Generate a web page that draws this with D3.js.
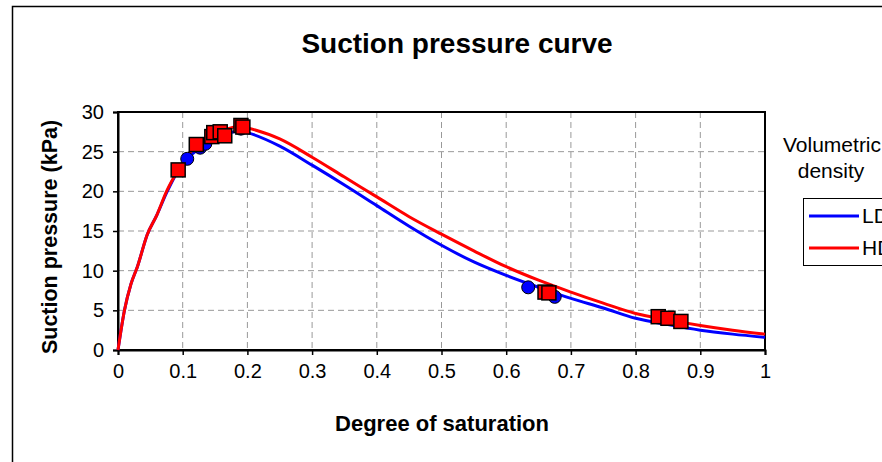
<!DOCTYPE html>
<html>
<head>
<meta charset="utf-8">
<script src="https://cdn.jsdelivr.net/npm/d3@7"></script>
<style>
  body { margin: 0; background: #fff; }
  text { font-family: Arial, "Liberation Sans", sans-serif; }
</style>
</head>
<body>
<div id="area"></div>
<script>
// curves (degree of saturation, suction kPa)
var ldCurveS = [0, 0.01, 0.02, 0.03, 0.045, 0.06, 0.075, 0.09, 0.107, 0.13, 0.15, 0.17, 0.19, 0.2, 0.25, 0.3, 0.35, 0.4, 0.45, 0.5, 0.55, 0.6, 0.65, 0.7, 0.75, 0.8, 0.85, 0.9, 0.95, 1.0];
var ldCurveP = [0, 5, 8.3, 10.5, 14.5, 17, 19.8, 22.2, 24.1, 25.6, 26.6, 27.3, 27.6, 27.4, 25.7, 23.3, 20.8, 18.2, 15.6, 13.2, 11.1, 9.4, 7.9, 6.5, 5.3, 4.0, 3.2, 2.5, 2.0, 1.6];
var hdCurveS = [0, 0.01, 0.02, 0.03, 0.045, 0.06, 0.075, 0.093, 0.12, 0.15, 0.17, 0.19, 0.2, 0.25, 0.3, 0.35, 0.4, 0.45, 0.5, 0.55, 0.6, 0.65, 0.7, 0.75, 0.8, 0.85, 0.9, 0.95, 1.0];
var hdCurveP = [0, 5, 8.3, 10.5, 14.5, 17, 20, 22.7, 25.7, 27.2, 27.9, 28.2, 28.0, 26.6, 24.3, 21.8, 19.3, 16.8, 14.6, 12.5, 10.5, 8.8, 7.3, 5.9, 4.6, 3.8, 3.1, 2.5, 2.0];

// measured points
var ldPtsS = [0.107, 0.127, 0.135, 0.19, 0.634, 0.675];
var ldPtsP = [24.1, 25.5, 26.0, 27.9, 7.9, 6.7];
var hdPtsS = [0.093, 0.121, 0.145, 0.148, 0.158, 0.165, 0.19, 0.193, 0.66, 0.666, 0.835, 0.85, 0.87];
var hdPtsP = [22.7, 25.9, 26.9, 27.4, 27.5, 27.0, 28.3, 28.1, 7.3, 7.2, 4.2, 4.0, 3.6];

var xTicks = [0, 0.1, 0.2, 0.3, 0.4, 0.5, 0.6, 0.7, 0.8, 0.9, 1];
var yTicks = [0, 5, 10, 15, 20, 25, 30];
var seriesNames = ["LD", "HD"];
var seriesColors = ["#0000ff", "#ff0000"];

var W = 882, H = 462;
var margin = {top: 112, left: 118};
var plotW = 765 - 118, plotH = 350 - 112;

var svg = d3.select('#area').append('svg')
            .attr('width', W)
            .attr('height', H);

// chart border
svg.append('rect')
   .attr('x', 12.5).attr('y', 6.5)
   .attr('width', W + 20).attr('height', H + 20)
   .attr('fill', '#fff').attr('stroke', '#000').attr('stroke-width', 1.5);

svg.append('text')
   .attr('x', 457).attr('y', 53)
   .attr('text-anchor', 'middle')
   .style('font-size', '28px').style('font-weight', 'bold')
   .text('Suction pressure curve');

var g = svg.append('g')
           .attr('transform', 'translate(' + margin.left + ',' + margin.top + ')');

var x = d3.scaleLinear().domain([0, 1]).range([0, plotW]);
var y = d3.scaleLinear().domain([0, 30]).range([plotH, 0]);

// grid
g.selectAll('.vgrid').data(xTicks.slice(1))
 .enter().append('line')
 .attr('x1', d => x(d)).attr('x2', d => x(d))
 .attr('y1', 0).attr('y2', plotH)
 .attr('stroke', '#999').attr('stroke-dasharray', '6,4');
g.selectAll('.hgrid').data(yTicks.slice(1))
 .enter().append('line')
 .attr('x1', 0).attr('x2', plotW)
 .attr('y1', d => y(d)).attr('y2', d => y(d))
 .attr('stroke', '#999').attr('stroke-dasharray', '6,4');

// plot frame
g.append('rect')
 .attr('width', plotW).attr('height', plotH)
 .attr('fill', 'none').attr('stroke', '#000').attr('stroke-width', 2);

var xAxis = d3.axisBottom(x).tickValues(xTicks).tickSize(5).tickPadding(9)
              .tickFormat(d => d === 0 ? '0' : d === 1 ? '1' : d3.format('.1f')(d));
var yAxis = d3.axisLeft(y).tickValues(yTicks).tickSize(5).tickPadding(9);

var xg = g.append('g').attr('transform', 'translate(0,' + plotH + ')').call(xAxis);
var yg = g.append('g').call(yAxis);
[xg, yg].forEach(function(a) {
  a.select('.domain').attr('stroke', '#000').attr('stroke-width', 2);
  a.selectAll('.tick line').attr('stroke', '#000').attr('stroke-width', 1.5);
  a.selectAll('.tick text').style('font-size', '20px').attr('fill', '#000')
   .style('font-family', 'Arial, "Liberation Sans", sans-serif');
});

// axis titles
svg.append('text')
   .attr('x', 442).attr('y', 431)
   .attr('text-anchor', 'middle')
   .style('font-size', '22px').style('font-weight', 'bold')
   .text('Degree of saturation');
svg.append('text')
   .attr('transform', 'translate(57,237) rotate(-90)')
   .attr('text-anchor', 'middle')
   .style('font-size', '21.5px').style('font-weight', 'bold')
   .text('Suction pressure (kPa)');

var line = d3.line().curve(d3.curveMonotoneX).x(d => x(d[0])).y(d => y(d[1]));

var ldCurve = ldCurveS.map((s, i) => [s, ldCurveP[i]]);
var hdCurve = hdCurveS.map((s, i) => [s, hdCurveP[i]]);

g.append('path').datum(ldCurve).attr('d', line)
 .attr('fill', 'none').attr('stroke', seriesColors[0]).attr('stroke-width', 3);
g.append('path').datum(hdCurve).attr('d', line)
 .attr('fill', 'none').attr('stroke', seriesColors[1]).attr('stroke-width', 3);

g.selectAll('.ldpt').data(ldPtsS.map((s, i) => [s, ldPtsP[i]]))
 .enter().append('circle')
 .attr('cx', d => x(d[0])).attr('cy', d => y(d[1])).attr('r', 6.5)
 .attr('fill', seriesColors[0]).attr('stroke', '#000').attr('stroke-width', 1);

g.selectAll('.hdpt').data(hdPtsS.map((s, i) => [s, hdPtsP[i]]))
 .enter().append('rect')
 .attr('x', d => x(d[0]) - 7).attr('y', d => y(d[1]) - 7)
 .attr('width', 14).attr('height', 14)
 .attr('fill', seriesColors[1]).attr('stroke', '#000').attr('stroke-width', 1.5);

// legend
svg.append('text').attr('x', 783).attr('y', 152)
   .style('font-size', '21px').text('Volumetric');
svg.append('text').attr('x', 831).attr('y', 178).attr('text-anchor', 'middle')
   .style('font-size', '21px').text('density');

svg.append('rect')
   .attr('x', 803.5).attr('y', 198.5).attr('width', 120).attr('height', 67)
   .attr('fill', '#fff').attr('stroke', '#000').attr('stroke-width', 1);

seriesNames.forEach(function(name, i) {
  var ly = 216 + i * 32;
  svg.append('line').attr('x1', 809).attr('x2', 859).attr('y1', ly).attr('y2', ly)
     .attr('stroke', seriesColors[i]).attr('stroke-width', 3);
  svg.append('text').attr('x', 862).attr('y', ly + 7)
     .style('font-size', '21px').text(name);
});
</script>
</body>
</html>
